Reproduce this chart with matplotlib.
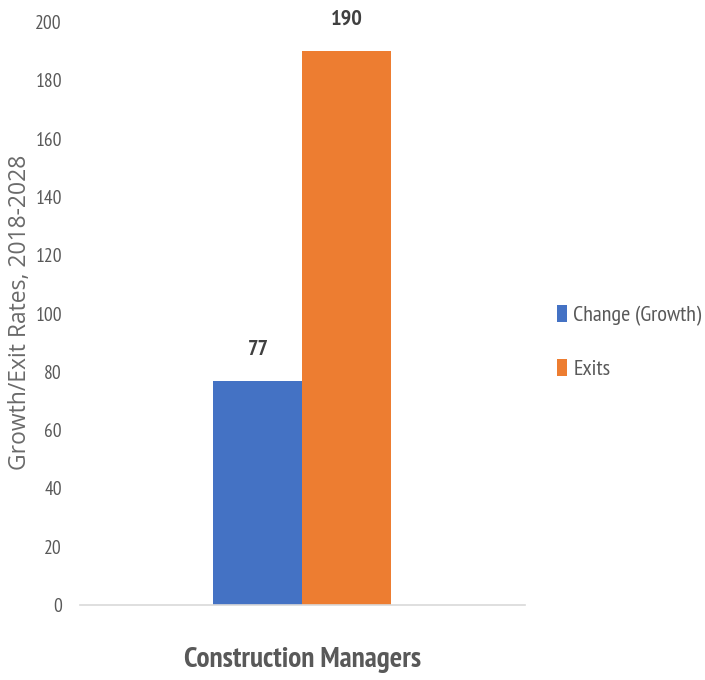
import matplotlib
matplotlib.use("Agg")
import matplotlib.pyplot as plt

category = "Construction Managers"
series = ["Change (Growth)", "Exits"]
values = [77, 190]
colors = ["#4472C4", "#ED7D31"]
yticks = [0, 20, 40, 60, 80, 100, 120, 140, 160, 180, 200]

grey = "#595959"
narrow = "PT Sans Narrow"

fig = plt.figure(figsize=(7.05, 6.8), dpi=100)
ax = fig.add_axes([0.1135, 0.1103, 0.631, 0.8573])

# two bars side by side around the single category
offsets = [-0.5, 0.5]
bars = []
for i in range(len(series)):
    b = ax.bar(offsets[i], values[i], width=1.0, color=colors[i], label=series[i])
    bars.append(b)
    ax.annotate(str(values[i]), (offsets[i], values[i]), xytext=(0, 22),
                textcoords="offset pixels", ha="center", va="bottom",
                fontsize=16, fontweight="bold", color="#404040", family=narrow)

ax.set_xlim(-2.5, 2.5)
ax.set_ylim(0, 200)
ax.set_yticks(yticks)
ax.set_yticklabels([str(t) for t in yticks], fontsize=14, color=grey, family=narrow)
ax.set_xticks([0])
ax.set_xticklabels([category], fontsize=21, fontweight="bold", color=grey, family=narrow)
ax.tick_params(axis="x", length=0, pad=30)
ax.tick_params(axis="y", length=0, pad=13)
for s in ["top", "right", "left"]:
    ax.spines[s].set_visible(False)
ax.spines["bottom"].set_color("#d9d9d9")
ax.spines["bottom"].set_linewidth(1.2)

fig.text(0.028, 0.541, "Growth/Exit Rates, 2018-2028", rotation=90, ha="center", va="center",
         fontsize=16.5, color="#6a6a6a", family="Open Sans")

leg = fig.legend(handles=[b[0] for b in bars], labels=series, loc="center left",
                 bbox_to_anchor=(0.79, 0.497), frameon=False, borderpad=0, borderaxespad=0,
                 labelspacing=1.45, handlelength=0.45, handleheight=0.8, handletextpad=0.28,
                 prop={"family": narrow, "size": 16})
for t in leg.get_texts():
    t.set_color(grey)

fig.savefig("out.png", dpi=100)
